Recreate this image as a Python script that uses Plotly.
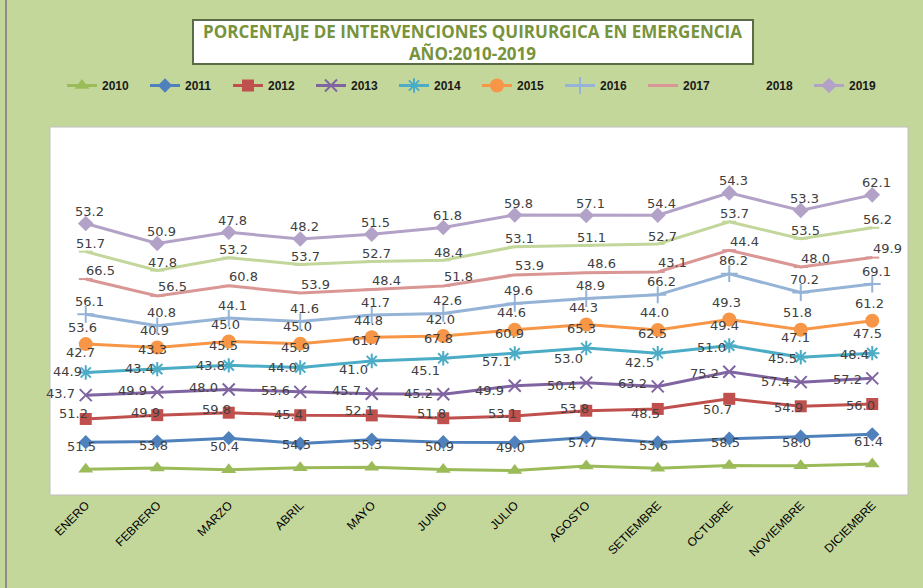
import numpy as np
import plotly.graph_objects as go

months = ["ENERO", "FEBRERO", "MARZO", "ABRIL", "MAYO", "JUNIO", "JULIO",
          "AGOSTO", "SETIEMBRE", "OCTUBRE", "NOVIEMBRE", "DICIEMBRE"]

years = ["2010", "2011", "2012", "2013", "2014", "2015", "2016", "2017", "2018", "2019"]

v2010 = [51.5, 53.8, 50.4, 54.5, 55.3, 50.9, 49.0, 57.7, 53.6, 58.5, 58.0, 61.4]
v2011 = [51.2, 49.9, 59.8, 45.4, 52.1, 51.8, 53.1, 53.8, 48.5, 50.7, 54.9, 56.0]
v2012 = [43.7, 49.9, 48.0, 53.6, 45.7, 45.2, 49.9, 50.4, 63.2, 75.2, 57.4, 57.2]
v2013 = [44.9, 43.4, 43.8, 44.0, 41.0, 45.1, 57.1, 53.0, 42.5, 51.0, 45.5, 48.4]
v2014 = [42.7, 43.3, 45.5, 45.9, 61.7, 67.8, 60.9, 65.3, 62.5, 49.4, 47.1, 47.5]
v2015 = [53.6, 40.9, 45.0, 45.0, 44.8, 42.0, 44.6, 44.3, 44.0, 49.3, 51.8, 61.2]
v2016 = [56.1, 40.8, 44.1, 41.6, 41.7, 42.6, 49.6, 48.9, 66.2, 86.2, 70.2, 69.1]
v2017 = [66.5, 56.5, 60.8, 53.9, 48.4, 51.8, 53.9, 48.6, 43.1, 44.4, 48.0, 49.9]
v2018 = [51.7, 47.8, 53.2, 53.7, 52.7, 48.4, 53.1, 51.1, 52.7, 53.7, 53.5, 56.2]
v2019 = [53.2, 50.9, 47.8, 48.2, 51.5, 61.8, 59.8, 57.1, 54.4, 54.3, 53.3, 62.1]

series = [v2010, v2011, v2012, v2013, v2014, v2015, v2016, v2017, v2018, v2019]

# styles
colors = ["#9bbb59", "#4f81bd", "#c0504d", "#8064a2", "#4bacc6",
          "#f79646", "#95b3d7", "#d99694", "#c3d69b", "#b3a2c7"]
symbols = ["triangle-up", "diamond", "square", "x-thin", "asterisk",
           "circle", "cross-thin", "line-ew", "line-ew", "diamond"]
msizes = [13, 11, 12, 12, 12, 14, 12, 10, 10, 12]
# label offsets (px) relative to each point: (dx, dy_up)
label_off = [(-4, 23), (-12, 29), (-25, 25), (-18, 24), (-5, 20),
             (-3, 17), (4, 13), (15, 9), (5, 8), (4, 12)]

cum = np.cumsum(np.array(series), axis=0)

fig = go.Figure()
for i, yr in enumerate(years):
    line_sym = symbols[i] in ("x-thin", "asterisk", "cross-thin", "line-ew")
    fig.add_trace(go.Scatter(
        x=months, y=cum[i], name=yr, mode="lines+markers",
        line=dict(color=colors[i], width=3),
        marker=dict(symbol=symbols[i], size=msizes[i], color=colors[i],
                    line=dict(color=colors[i], width=2 if line_sym else 0)),
    ))

annotations = []
for i, vals in enumerate(series):
    dx, dy = label_off[i]
    for j, v in enumerate(vals):
        annotations.append(dict(
            x=months[j], y=cum[i][j], text=f"{v:.1f}", showarrow=False,
            xshift=dx, yshift=dy, xanchor="center", yanchor="middle",
            font=dict(family="DejaVu Sans", size=13, color="#404040")))

W, H = 923, 588
L, R, T, B = 50, 15, 127, 93
pw, ph = W - L - R, H - T - B

def px(x):
    return (x - L) / pw

def py(y):
    return (H - B - y) / ph

annotations.append(dict(
    x=px(472.5), y=py(42), xref="paper", yref="paper", showarrow=False,
    text="PORCENTAJE DE INTERVENCIONES QUIRURGICA EN EMERGENCIA<br>AÑO:2010-2019",
    xanchor="center", yanchor="middle", align="center",
    font=dict(family="Open Sans", size=17, color="#77933c", weight="bold")))

shapes = [
    dict(type="rect", xref="paper", yref="paper", x0=px(193), x1=px(753),
         y0=py(64), y1=py(20), fillcolor="white",
         line=dict(color="#5b6b47", width=2), layer="below"),
    dict(type="rect", xref="paper", yref="paper", x0=0, x1=1, y0=0, y1=1,
         line=dict(color="#bfbfbf", width=1), layer="above"),
    dict(type="line", xref="paper", yref="paper", x0=px(6), x1=px(6),
         y0=py(588), y1=py(0), line=dict(color="#8c8c8c", width=2)),
]

fig.update_layout(
    width=W, height=H,
    margin=dict(l=L, r=R, t=T, b=B),
    paper_bgcolor="#c4d79b", plot_bgcolor="white",
    showlegend=True,
    legend=dict(orientation="h", xref="container", yref="container",
                x=62 / W, y=1 - 71 / H, xanchor="left", yanchor="top",
                font=dict(family="Liberation Sans", size=12, color="#1a1a1a", weight="bold"),
                bgcolor="rgba(0,0,0,0)", entrywidth=38, entrywidthmode="pixels",
                itemwidth=30, tracegroupgap=0),
    xaxis=dict(type="category", range=[-0.5, 11.5], showgrid=False, zeroline=False,
               showline=False, ticks="", tickangle=-45,
               tickfont=dict(family="Liberation Sans", size=12, color="#000000")),
    yaxis=dict(range=[3, 697], visible=False, showgrid=False, zeroline=False),
    annotations=annotations, shapes=shapes,
)

fig.write_html("out.html", config={"displayModeBar": False},
               post_script="document.body.style.margin='0';document.body.style.background='#c4d79b';")
